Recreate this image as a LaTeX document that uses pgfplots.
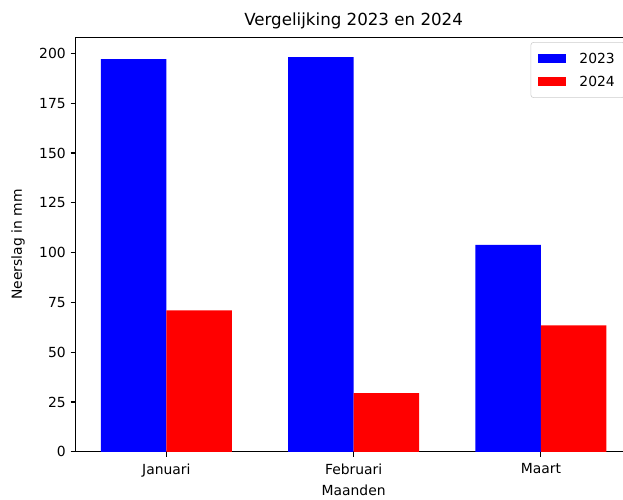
\documentclass[border=0pt]{standalone}
\usepackage{fontspec}
\setmainfont{DejaVu Sans}
\usepackage{pgfplots}
\pgfplotsset{compat=1.18}

\begin{document}
\begin{tikzpicture}[font=\fontsize{10}{12}\selectfont]
\begin{axis}[
    scale only axis,
    width=400.5pt, height=298.4pt,
    xmin=-0.485, xmax=2.485,
    ymin=0, ymax=208.1,
    axis line style={line width=0.8pt},
    tick align=outside,
    tick pos=left,
    major tick length=3.5pt,
    every tick/.style={black, line width=0.8pt},
    xtick={0,1,2},
    xticklabels={Januari,Februari,Maart},
    xticklabel style={yshift=-1.4pt},
    ytick={0,25,...,200},
    /pgf/number format/assume math mode=true,
    title={Vergelijking 2023 en 2024},
    title style={font=\fontsize{12}{14}\selectfont, at={(axis description cs:0.5,1)}, anchor=center, yshift=6pt},
    xlabel={Maanden},
    xlabel style={at={(axis description cs:0.5,0)}, anchor=center, yshift=-27.6pt},
    ylabel={Neerslag in mm},
    ylabel style={at={(axis description cs:0,0.5)}, anchor=center, yshift=41.4pt},
    legend style={at={(1,1)}, anchor=north east, xshift=-5pt, yshift=-3.4pt,
        draw=black!20, rounded corners=2pt, font=\fontsize{10}{12}\selectfont,
        row sep=6pt, inner xsep=5.5pt, inner ysep=6.5pt,
        nodes={inner sep=1.5pt, text depth=0pt}},
    legend cell align=left,
]
\addplot[ybar, bar width=0.35, bar shift=-0.175, fill=blue, draw=none,
    legend image code/.code={\fill[blue, sharp corners] (0pt,-3.5pt) rectangle (20pt,3.5pt); \path (28pt,0pt);}]
    coordinates {(0,197.2) (1,198.2) (2,103.9)};
\addlegendentry{2023}
\addplot[ybar, bar width=0.35, bar shift=0.175, fill=red, draw=none,
    legend image code/.code={\fill[red, sharp corners] (0pt,-3.5pt) rectangle (20pt,3.5pt); \path (28pt,0pt);}]
    coordinates {(0,71.0) (1,29.4) (2,63.4)};
\addlegendentry{2024}
\coordinate (sw) at (rel axis cs:0,0);
\end{axis}
\pgfresetboundingbox
\path[use as bounding box] ([shift={(-54.36pt,-34.06pt)}]sw) rectangle ([shift={(394.2pt,325.26pt)}]sw);
\end{tikzpicture}
\end{document}
